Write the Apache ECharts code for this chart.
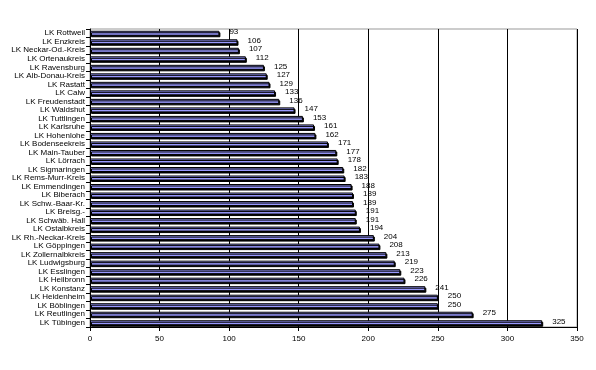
<!DOCTYPE html>
<html><head><meta charset="utf-8">
<script src="https://cdn.jsdelivr.net/npm/echarts@6/dist/echarts.min.js"></script>
<style>html,body{margin:0;padding:0;background:#fff}#c{width:596px;height:370px}</style>
</head><body><div id="c"></div>
<script>
const categories = ["LK Rottweil","LK Enzkreis","LK Neckar-Od.-Kreis","LK Ortenaukreis","LK Ravensburg","LK Alb-Donau-Kreis","LK Rastatt","LK Calw","LK Freudenstadt","LK Waldshut","LK Tuttlingen","LK Karlsruhe","LK Hohenlohe","LK Bodenseekreis","LK Main-Tauber","LK Lörrach","LK Sigmaringen","LK Rems-Murr-Kreis","LK Emmendingen","LK Biberach","LK Schw.-Baar-Kr.","LK Breisg.-","LK Schwäb. Hall","LK Ostalbkreis","LK Rh.-Neckar-Kreis","LK Göppingen","LK Zollernalbkreis","LK Ludwigsburg","LK Esslingen","LK Heilbronn","LK Konstanz","LK Heidenheim","LK Böblingen","LK Reutlingen","LK Tübingen"];
const values = [93,106,107,112,125,127,129,133,136,147,153,161,162,171,177,178,182,183,188,189,189,191,191,194,204,208,213,219,223,226,241,250,250,275,325];
const xTicks = [0,50,100,150,200,250,300,350];
const font = "'Liberation Sans Narrow','Arial Narrow','Liberation Sans',sans-serif";
const chart = echarts.init(document.getElementById('c'), null, {renderer:'canvas'});
chart.setOption({
  animation:false,
  grid:{left:90,right:19,top:29,bottom:43,show:true,borderColor:'#999',borderWidth:1},
  xAxis:{type:'value',min:xTicks[0],max:xTicks[xTicks.length-1],interval:50,
    axisLine:{show:true,lineStyle:{color:'#000',width:1}},
    axisTick:{show:true,inside:false,length:4,lineStyle:{color:'#000'}},
    axisLabel:{color:'#000',fontSize:8,fontFamily:font,margin:8},
    splitLine:{show:true,lineStyle:{color:'#000',width:1}}},
  yAxis:{type:'category',data:categories,inverse:true,
    axisLine:{show:true,lineStyle:{color:'#000',width:1}},
    axisTick:{show:true,length:4,lineStyle:{color:'#000'}},
    axisLabel:{color:'#000',fontSize:8,fontFamily:font,margin:5,interval:0}},
  series:[{type:'bar',data:values,barWidth:5,
    itemStyle:{color:'#9999ff',borderColor:'#000',borderWidth:1,shadowColor:'#000',shadowOffsetX:1,shadowOffsetY:1.5,shadowBlur:0},
    label:{show:true,position:'right',distance:10,offset:[0,-1],color:'#000',fontSize:8,fontFamily:font}}]
});
</script></body></html>
